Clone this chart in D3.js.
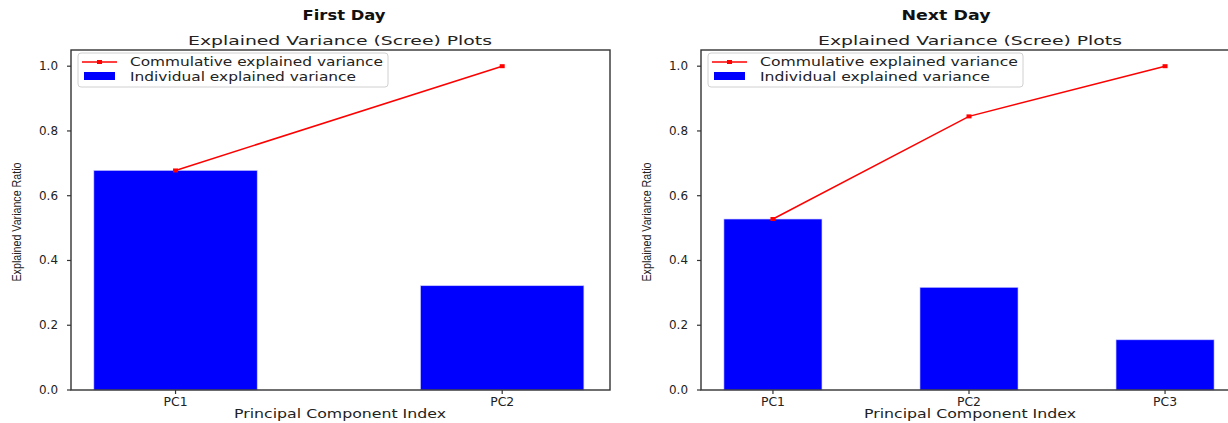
<!DOCTYPE html>
<html><head><meta charset="utf-8">
<script src="https://cdn.jsdelivr.net/npm/d3@7"></script>
<style>body{margin:0;background:#fff}svg{display:block}</style>
</head><body>
<svg id="c" width="1228" height="423"></svg>
<script>
// ---- data ----
const firstCategories = ["PC1", "PC2"];
const firstIndividual = [0.678, 0.322];
const firstCumulative = [0.678, 1.0];
const nextCategories = ["PC1", "PC2", "PC3"];
const nextIndividual = [0.528, 0.317, 0.155];
const nextCumulative = [0.528, 0.845, 1.0];
const yTicks = [0.0, 0.2, 0.4, 0.6, 0.8, 1.0];
const panelTitles = ["First Day", "Next Day"];
const subTitle = "Explained Variance (Scree) Plots";
const xLabel = "Principal Component Index";
const yLabel = "Explained Variance Ratio";
const legendLabels = ["Commulative explained variance", "Individual explained variance"];

const svg = d3.select("#c");
const FONT = "DejaVu Sans, sans-serif";

function txt(g, x, y, s, o) {
  const t = g.append("text").attr("x", x).attr("y", y).text(s)
    .attr("font-family", o.family || FONT).attr("font-size", o.size)
    .attr("font-weight", o.weight || "normal").attr("fill", o.fill || "#222")
    .attr("text-anchor", o.anchor || "start");
  if (o.rotate) t.attr("transform", `rotate(${o.rotate},${x},${y})`);
  if (o.width) t.attr("textLength", o.width).attr("lengthAdjust", "spacingAndGlyphs");
  return t;
}

function panel(cfg) {
  const { cats, indiv, cum, x0, x1, domain, title, titleX, subX, legendW, legendTextW, titleW } = cfg;
  const top = 50, bottom = 390;
  const g = svg.append("g");
  const x = d3.scaleLinear().domain(domain).range([x0, x1]);
  const y = d3.scaleLinear().domain([0, 1.05]).range([bottom, top]);
  const idx = cats.map((d, i) => i);

  // bars
  g.selectAll("rect.bar").data(idx).enter().append("rect")
    .attr("x", i => x(i - 0.25)).attr("width", i => x(i + 0.25) - x(i - 0.25))
    .attr("y", i => y(indiv[i])).attr("height", i => y(0) - y(indiv[i]))
    .attr("fill", "#0000ff").attr("stroke", "#c8c8ff").attr("stroke-width", 0.6);

  // cumulative line
  const line = d3.line().x(i => x(i)).y(i => y(cum[i]));
  g.append("path").attr("d", line(idx)).attr("fill", "none").attr("stroke", "#ff0000").attr("stroke-width", 1.5);
  g.selectAll("rect.mk").data(idx).enter().append("rect")
    .attr("x", i => x(i) - 2.5).attr("y", i => y(cum[i]) - 2).attr("width", 5).attr("height", 4).attr("fill", "#ff0000");

  // frame
  g.append("rect").attr("x", x0).attr("y", top).attr("width", x1 - x0).attr("height", bottom - top)
    .attr("fill", "none").attr("stroke", "#333").attr("stroke-width", 1.4);

  // y axis ticks
  yTicks.forEach(v => {
    g.append("line").attr("x1", x0 - 4).attr("x2", x0).attr("y1", y(v)).attr("y2", y(v)).attr("stroke", "#333").attr("stroke-width", 1.2);
    txt(g, x0 - 13, y(v) + 4, v.toFixed(1), { size: 11.5, anchor: "end", width: 19 });
  });
  // x axis ticks
  cats.forEach((c, i) => {
    g.append("line").attr("x1", x(i)).attr("x2", x(i)).attr("y1", bottom).attr("y2", bottom + 4).attr("stroke", "#333").attr("stroke-width", 1.2);
    txt(g, x(i), bottom + 16, c, { size: 11.5, anchor: "middle", width: 24 });
  });

  // labels
  txt(g, subX, bottom + 28, xLabel, { size: 11.5, anchor: "middle", width: 212 });
  const ylx = x0 - 50;
  txt(g, ylx, 222, yLabel, { size: 13.5, anchor: "middle", rotate: -90, width: 119, family: "Liberation Sans Narrow, Arial Narrow, Liberation Sans, sans-serif" });
  txt(g, subX, 45, subTitle, { size: 12.5, anchor: "middle", width: 304 });
  txt(g, titleX, 20, title, { size: 14, anchor: "middle", weight: "bold", width: titleW, fill: "#111" });

  // legend
  const lx = x0 + 7, ly = top + 3;
  g.append("rect").attr("x", lx).attr("y", ly).attr("width", legendW).attr("height", 34).attr("rx", 3)
    .attr("fill", "#fff").attr("fill-opacity", 0.85).attr("stroke", "#d0d0d0").attr("stroke-width", 1);
  g.append("line").attr("x1", lx + 4).attr("x2", lx + 39).attr("y1", ly + 9).attr("y2", ly + 9).attr("stroke", "#ff0000").attr("stroke-width", 1.5);
  g.append("rect").attr("x", lx + 19).attr("y", ly + 7).attr("width", 5).attr("height", 4).attr("fill", "#ff0000");
  g.append("rect").attr("x", lx + 6).attr("y", ly + 19).attr("width", 31).attr("height", 8).attr("fill", "#0000ff");
  txt(g, lx + 52, ly + 13, legendLabels[0], { size: 12, width: legendTextW[0] });
  txt(g, lx + 52, ly + 28, legendLabels[1], { size: 12, width: legendTextW[1] });
}

panel({ cats: firstCategories, indiv: firstIndividual, cum: firstCumulative,
  x0: 71, x1: 610, domain: [-0.32, 1.33], title: panelTitles[0], titleX: 344, subX: 340,
  legendW: 310, legendTextW: [253, 226], titleW: 83 });
panel({ cats: nextCategories, indiv: nextIndividual, cum: nextCumulative,
  x0: 701, x1: 1237, domain: [-0.367, 2.367], title: panelTitles[1], titleX: 946, subX: 970,
  legendW: 315, legendTextW: [258, 230], titleW: 89 });
</script>
</body></html>
